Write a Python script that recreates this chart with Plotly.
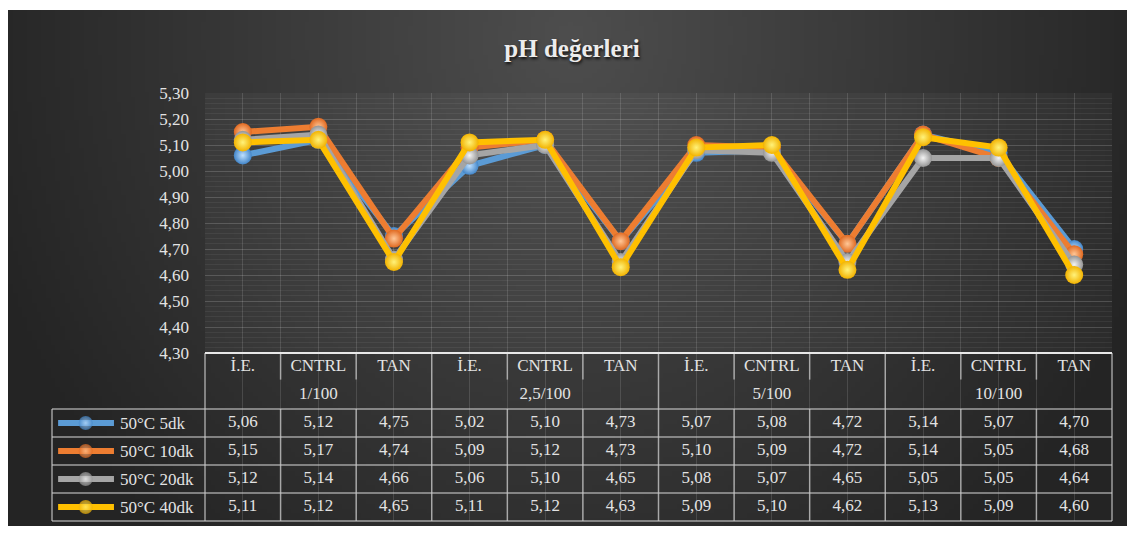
import base64
import struct
import zlib

import numpy as np
import plotly.graph_objects as go

# ---------------- data ----------------
categories = ["İ.E.", "CNTRL", "TAN", "İ.E.", "CNTRL", "TAN",
              "İ.E.", "CNTRL", "TAN", "İ.E.", "CNTRL", "TAN"]
groups = ["1/100", "2,5/100", "5/100", "10/100"]
series_names = ["50°C 5dk", "50°C 10dk", "50°C 20dk", "50°C 40dk"]
ph_5dk = [5.06, 5.12, 4.75, 5.02, 5.10, 4.73, 5.07, 5.08, 4.72, 5.14, 5.07, 4.70]
ph_10dk = [5.15, 5.17, 4.74, 5.09, 5.12, 4.73, 5.10, 5.09, 4.72, 5.14, 5.05, 4.68]
ph_20dk = [5.12, 5.14, 4.66, 5.06, 5.10, 4.65, 5.08, 5.07, 4.65, 5.05, 5.05, 4.64]
ph_40dk = [5.11, 5.12, 4.65, 5.11, 5.12, 4.63, 5.09, 5.10, 4.62, 5.13, 5.09, 4.60]
series_values = [ph_5dk, ph_10dk, ph_20dk, ph_40dk]

# ---------------- styles ----------------
line_colors = ["#5B9BD5", "#ED7D31", "#A5A5A5", "#FFC000"]
rim_colors = ["#4285c8", "#e0681f", "#949494", "#f2b200"]
glow_colors = ["#bfe0ff", "#ffc797", "#f4f4f4", "#fff27a"]
TXT = "#e3e3e3"
SERIF = "Liberation Serif, Times New Roman, serif"
GRID_LINE = "rgba(200,200,200,0.75)"

OFF = 8  # page body margin
W, H = 1135 - 2 * OFF, 534 - 2 * OFF
ML, MT = 52 - OFF, 93 - OFF
MR = W - (1112 - OFF)
MB = H - (521 - OFF)
plot_w = W - ML - MR
plot_h = H - MT - MB
x_split = (205 - 52) / plot_w
y_split = (521 - 353) / plot_h
n_rows = 6

# ---------------- background gradient image ----------------
bw, bh = 240, 112
yy, xx = np.mgrid[0:bh, 0:bw]
u = (xx + 0.5) / bw
v = (yy + 0.5) / bh
d = np.sqrt(((u - 0.5) / 0.55) ** 2 + ((v - 0.05) / 1.3) ** 2)
val = (36 + 42 * np.clip(1 - d, 0, 1)).astype(np.uint8)
raw = b"".join(b"\x00" + val[r].tobytes() for r in range(bh))


def _chunk(t, data):
    return struct.pack(">I", len(data)) + t + data + struct.pack(">I", zlib.crc32(t + data) & 0xFFFFFFFF)


png = (b"\x89PNG\r\n\x1a\n" + _chunk(b"IHDR", struct.pack(">IIBBBBB", bw, bh, 8, 0, 0, 0, 0))
       + _chunk(b"IDAT", zlib.compress(raw)) + _chunk(b"IEND", b""))
bg_src = "data:image/png;base64," + base64.b64encode(png).decode()

x_idx = list(range(len(categories)))


def fmt(v):
    return f"{v:.2f}".replace(".", ",")


fig = go.Figure()

# ---------------- main lines ----------------
for name, vals, lc, rc, gc in zip(series_names, series_values, line_colors, rim_colors, glow_colors):
    fig.add_trace(go.Scatter(
        x=x_idx, y=vals, name=name, mode="lines+markers",
        line=dict(color=lc, width=6),
        marker=dict(size=18, color=rc, gradient=dict(type="radial", color=gc),
                    line=dict(width=0)),
        xaxis="x", yaxis="y", showlegend=False, cliponaxis=False,
    ))

# ---------------- table text (through x / y2 scales) ----------------
fig.add_trace(go.Scatter(
    x=x_idx, y=[0.5] * len(categories), text=categories, mode="text",
    textfont=dict(family=SERIF, size=17, color=TXT),
    xaxis="x", yaxis="y2", showlegend=False, hoverinfo="skip", cliponaxis=False))
fig.add_trace(go.Scatter(
    x=[3 * g + 1 for g in range(len(groups))], y=[1.5] * len(groups), text=groups, mode="text",
    textfont=dict(family=SERIF, size=17, color=TXT),
    xaxis="x", yaxis="y2", showlegend=False, hoverinfo="skip", cliponaxis=False))
for k, vals in enumerate(series_values):
    fig.add_trace(go.Scatter(
        x=x_idx, y=[2.5 + k] * len(vals), text=[fmt(v) for v in vals], mode="text",
        textfont=dict(family=SERIF, size=17, color=TXT),
        xaxis="x", yaxis="y2", showlegend=False, hoverinfo="skip", cliponaxis=False))

# ---------------- legend keys in the table ----------------
for k, (name, lc, rc, gc) in enumerate(zip(series_names, line_colors, rim_colors, glow_colors)):
    fig.add_trace(go.Scatter(
        x=[0.04, 0.22, 0.405], y=[2.5 + k] * 3, mode="lines+markers",
        line=dict(color=lc, width=6),
        marker=dict(size=[0, 14, 0], color=rc, gradient=dict(type="radial", color=gc),
                    line=dict(width=0)),
        xaxis="x3", yaxis="y2", showlegend=False, hoverinfo="skip", cliponaxis=False))
    fig.add_annotation(x=0.43, y=2.5 + k, xref="x3", yref="y2", text=name, showarrow=False,
                       xanchor="left", yanchor="middle",
                       font=dict(family=SERIF, size=17, color=TXT))


# ---------------- table lines ----------------
def row_frac(r):
    return 1 - r / n_rows


shapes = []
ncat = len(categories)
shapes.append(dict(type="rect", xref="x domain", yref="y domain", x0=0, x1=1, y0=0, y1=1,
                   fillcolor="rgba(255,255,255,0.035)", line=dict(width=0), layer="below"))
for kk in range(ncat + 1):
    xf = kk / ncat
    if kk % 3 == 0:
        r0, r1 = 0, n_rows
    else:
        shapes.append(dict(type="line", xref="x domain", yref="y2 domain", x0=xf, x1=xf,
                           y0=row_frac(0), y1=row_frac(0.95), line=dict(color=GRID_LINE, width=1.5)))
        r0, r1 = 2, n_rows
    shapes.append(dict(type="line", xref="x domain", yref="y2 domain", x0=xf, x1=xf,
                       y0=row_frac(r0), y1=row_frac(r1), line=dict(color=GRID_LINE, width=1.5)))
for r in range(2, n_rows + 1):
    shapes.append(dict(type="line", xref="paper", yref="y2 domain", x0=0, x1=1,
                       y0=row_frac(r), y1=row_frac(r), line=dict(color=GRID_LINE, width=1.5)))
shapes.append(dict(type="line", xref="paper", yref="y2 domain", x0=0, x1=0,
                   y0=row_frac(2), y1=row_frac(n_rows), line=dict(color=GRID_LINE, width=1.5)))
shapes.append(dict(type="line", xref="x domain", yref="y2 domain", x0=0, x1=1,
                   y0=row_frac(0), y1=row_frac(0), line=dict(color="#e8e8e8", width=2.2)))

fig.update_layout(
    width=W, height=H,
    margin=dict(l=ML, r=MR, t=MT, b=MB, autoexpand=False),
    paper_bgcolor="white", plot_bgcolor="rgba(0,0,0,0)",
    separators=",.",
    title=dict(text="<b>pH değerleri</b>", x=(572 - OFF) / W, xref="container", xanchor="center",
               y=1 - (48 - OFF) / H, yref="container", yanchor="middle",
               font=dict(family=SERIF, size=25, color="#ececec",
                         shadow="1px 2px 3px rgba(0,0,0,0.8)")),
    xaxis=dict(domain=[x_split, 1], range=[-0.5, ncat - 0.5], anchor="y",
               tickmode="linear", tick0=-0.5, dtick=0.5, showticklabels=False,
               showgrid=True, gridcolor="rgba(255,255,255,0.13)", gridwidth=1,
               zeroline=False, showline=False, ticks=""),
    yaxis=dict(domain=[y_split, 1], range=[4.3, 5.3], anchor="x",
               tickmode="linear", tick0=4.3, dtick=0.1, tickformat=".2f",
               tickfont=dict(family=SERIF, size=17, color=TXT),
               ticklabelstandoff=15,
               showgrid=True, gridcolor="rgba(255,255,255,0.17)", gridwidth=1,
               minor=dict(dtick=0.02, showgrid=True, gridcolor="rgba(255,255,255,0.06)"),
               zeroline=False, showline=False, ticks=""),
    yaxis2=dict(domain=[0, y_split], range=[n_rows, 0], anchor="x", visible=False),
    xaxis3=dict(domain=[0, x_split], range=[0, 1], anchor="y2", visible=False),
    shapes=shapes,
    images=[dict(source=bg_src, xref="paper", yref="paper",
                 x=(6 - 52) / plot_w, y=(521 - 10) / plot_h,
                 sizex=(1135 - 6) / plot_w, sizey=(534 - 10) / plot_h,
                 xanchor="left", yanchor="top", sizing="stretch", layer="below")],
    showlegend=False,
)

fig.write_html("out.html")
